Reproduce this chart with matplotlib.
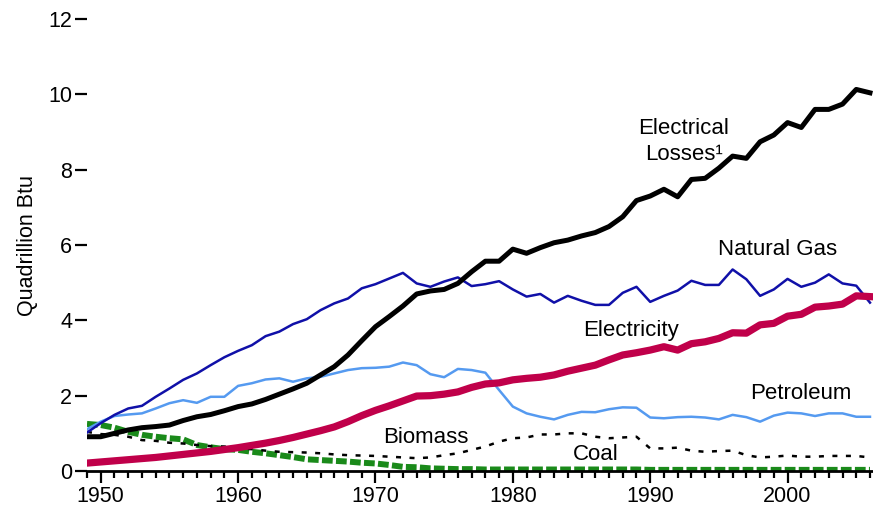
import matplotlib
matplotlib.use("Agg")
import matplotlib.pyplot as plt
from matplotlib.ticker import MultipleLocator

plt.rcParams['font.family'] = ['Liberation Sans', 'DejaVu Sans']

years = list(range(1949, 2007))

natural_gas = [1.02, 1.27, 1.49, 1.66, 1.73, 1.97, 2.19, 2.42, 2.59, 2.81,
               3.02, 3.19, 3.34, 3.58, 3.70, 3.90, 4.03, 4.27, 4.45, 4.58,
               4.85, 4.96, 5.11, 5.26, 4.98, 4.89, 5.03, 5.14, 4.91, 4.96,
               5.04, 4.82, 4.63, 4.70, 4.47, 4.65, 4.52, 4.41, 4.41, 4.73,
               4.89, 4.49, 4.65, 4.79, 5.05, 4.94, 4.94, 5.35, 5.09, 4.65,
               4.82, 5.10, 4.89, 5.00, 5.22, 4.98, 4.92, 4.47]

electrical_losses = [0.91, 0.91, 1.00, 1.09, 1.15, 1.18, 1.22, 1.34, 1.44, 1.50,
                     1.60, 1.71, 1.78, 1.90, 2.04, 2.18, 2.33, 2.55, 2.77, 3.08,
                     3.46, 3.83, 4.10, 4.38, 4.70, 4.78, 4.82, 4.98, 5.29, 5.57,
                     5.57, 5.89, 5.78, 5.93, 6.06, 6.13, 6.24, 6.33, 6.49, 6.75,
                     7.18, 7.30, 7.48, 7.28, 7.74, 7.77, 8.04, 8.36, 8.30, 8.74,
                     8.92, 9.25, 9.12, 9.60, 9.60, 9.74, 10.13, 10.04]

electricity = [0.21, 0.24, 0.27, 0.30, 0.33, 0.36, 0.40, 0.44, 0.48, 0.52,
               0.57, 0.62, 0.68, 0.74, 0.81, 0.89, 0.98, 1.07, 1.17, 1.31,
               1.47, 1.61, 1.73, 1.86, 1.99, 2.00, 2.04, 2.10, 2.22, 2.31,
               2.34, 2.42, 2.46, 2.49, 2.55, 2.65, 2.73, 2.81, 2.95, 3.08,
               3.14, 3.21, 3.30, 3.21, 3.38, 3.43, 3.52, 3.67, 3.66, 3.88,
               3.92, 4.11, 4.16, 4.35, 4.38, 4.43, 4.65, 4.63]

petroleum = [1.11, 1.31, 1.46, 1.50, 1.53, 1.66, 1.80, 1.88, 1.81, 1.97,
             1.97, 2.26, 2.33, 2.43, 2.46, 2.37, 2.46, 2.50, 2.59, 2.68,
             2.73, 2.74, 2.77, 2.88, 2.81, 2.57, 2.49, 2.71, 2.68, 2.61,
             2.15, 1.71, 1.53, 1.44, 1.37, 1.49, 1.57, 1.56, 1.64, 1.69,
             1.68, 1.42, 1.40, 1.43, 1.44, 1.42, 1.37, 1.49, 1.43, 1.31,
             1.47, 1.55, 1.53, 1.46, 1.53, 1.53, 1.44, 1.44]

biomass = [1.04, 0.98, 0.96, 0.91, 0.82, 0.80, 0.75, 0.73, 0.69, 0.66,
           0.65, 0.60, 0.58, 0.54, 0.51, 0.50, 0.49, 0.47, 0.44, 0.42,
           0.41, 0.40, 0.38, 0.36, 0.34, 0.36, 0.42, 0.47, 0.56, 0.65,
           0.78, 0.87, 0.89, 0.97, 0.97, 1.00, 1.00, 0.91, 0.87, 0.89,
           0.91, 0.60, 0.60, 0.62, 0.54, 0.51, 0.53, 0.54, 0.42, 0.36,
           0.38, 0.41, 0.38, 0.38, 0.40, 0.40, 0.40, 0.36]

coal = [1.25, 1.22, 1.15, 1.04, 0.96, 0.91, 0.87, 0.84, 0.69, 0.63,
        0.58, 0.56, 0.51, 0.47, 0.42, 0.37, 0.31, 0.29, 0.27, 0.25,
        0.22, 0.20, 0.16, 0.11, 0.10, 0.07, 0.06, 0.05, 0.05, 0.04,
        0.04, 0.04, 0.04, 0.04, 0.04, 0.04, 0.04, 0.04, 0.04, 0.04,
        0.04, 0.03, 0.03, 0.03, 0.03, 0.03, 0.03, 0.03, 0.03, 0.03,
        0.03, 0.03, 0.03, 0.03, 0.03, 0.03, 0.03, 0.03]

y_ticks = [0, 2, 4, 6, 8, 10, 12]
x_major = [1950, 1960, 1970, 1980, 1990, 2000]

FS = 15.5
FS_LABEL = 16
W, H = 873, 511
fig = plt.figure(figsize=(W / 100, H / 100), dpi=100)
ax = fig.add_axes([87 / W, (H - 471) / H, (W - 87) / W, (471 - 19) / H])

ax.plot(years, coal, color='#1a8a1a', lw=4.3, dashes=(1.8, 0.55),
        solid_capstyle='butt', dash_capstyle='butt', zorder=2)
ax.plot(years, biomass, color='black', lw=1.8, dashes=(2.0, 3.4),
        dash_capstyle='butt', zorder=3)
ax.plot(years, petroleum, color='#559af0', lw=1.8, zorder=4)
ax.plot(years, natural_gas, color='#1010a8', lw=1.8, zorder=4)
ax.plot(years, electricity, color='#c0004a', lw=5.2, zorder=5)
ax.plot(years, electrical_losses, color='black', lw=3.6, zorder=6)

ax.set_xlim(1949, 2006.22)
ax.set_ylim(0, 12)

for s in ['top', 'right', 'left']:
    ax.spines[s].set_visible(False)
ax.spines['bottom'].set_linewidth(2.0)

ax.set_yticks(y_ticks)
ax.set_xticks(x_major)
ax.xaxis.set_minor_locator(MultipleLocator(1))
ax.tick_params(axis='y', direction='out', length=8.6, width=1.6,
               labelsize=FS, pad=2)
ax.tick_params(axis='x', which='major', direction='out', length=8.8,
               width=1.6, labelsize=FS, pad=2)
ax.tick_params(axis='x', which='minor', direction='out', length=5.0,
               width=1.6)

ax.set_ylabel('Quadrillion Btu', fontsize=FS)
ax.yaxis.set_label_coords(-0.062, 0.5)

ax.text(1992.45, 8.75, 'Electrical\nLosses\u00b9', fontsize=FS_LABEL,
        ha='center', va='center', linespacing=1.27)
ax.text(1999.26, 5.89, 'Natural Gas', fontsize=FS_LABEL, ha='center', va='center')
ax.text(1988.62, 3.72, 'Electricity', fontsize=FS_LABEL, ha='center', va='center')
ax.text(2000.95, 2.07, 'Petroleum', fontsize=FS_LABEL, ha='center', va='center')
ax.text(1973.69, 0.88, 'Biomass', fontsize=FS_LABEL, ha='center', va='center')
ax.text(1986.01, 0.43, 'Coal', fontsize=FS_LABEL, ha='center', va='center')

fig.savefig('out.png', dpi=100)
